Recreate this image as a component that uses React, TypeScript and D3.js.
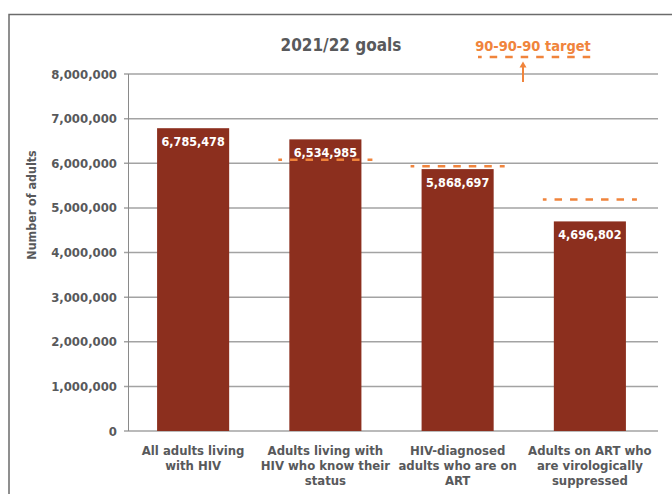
import React from "react";
import * as d3 from "d3";

const categories: string[][] = [
  ["All adults living", "with HIV"],
  ["Adults living with", "HIV who know their", "status"],
  ["HIV-diagnosed", "adults who are on", "ART"],
  ["Adults on ART who", "are virologically", "suppressed"],
];
const values: number[] = [6785478, 6534985, 5868697, 4696802];
const targets: (number | null)[] = [null, 6080000, 5930000, 5190000];
const yTicks: number[] = [0, 1000000, 2000000, 3000000, 4000000, 5000000, 6000000, 7000000, 8000000];

const W = 672;
const H = 494;
const FONT = "'Liberation Sans Narrow', 'DejaVu Sans Condensed', 'Open Sans', sans-serif";
const GRAY = "#58595b";
const BAR = "#8c2f1e";
const ORANGE = "#f0843c";

export default function App() {
  const x = d3
    .scaleBand<number>()
    .domain(values.map((_, i) => i))
    .range([127, 656])
    .paddingInner(0.455)
    .paddingOuter(0.2275);
  const y = d3.scaleLinear().domain([0, 8000000]).range([431, 74]);
  const fmt = d3.format(",");
  const bw = x.bandwidth();

  return (
    <svg
      width={W}
      height={H}
      style={{ position: "absolute", left: 0, top: 0, background: "#fff" }}
      fontFamily={FONT}
    >
      <rect x={9} y={14.5} width={700} height={520} fill="#fff" stroke="#6b6b6b" strokeWidth={1.5} />

      {/* gridlines & ticks */}
      {yTicks.map((t) => (
        <g key={t}>
          <line x1={124} x2={658} y1={y(t)} y2={y(t)} stroke="#a3a3a3" strokeWidth={1.5} />
          <text
            x={117}
            y={y(t)}
            dy="0.35em"
            textAnchor="end"
            fontSize={13}
            fontWeight="bold"
            fill={GRAY}
          >
            {fmt(t)}
          </text>
        </g>
      ))}
      <line x1={128.5} x2={128.5} y1={y(8000000)} y2={y(0)} stroke="#8a8a8a" strokeWidth={1} />

      {/* y axis title */}
      <text
        transform={`translate(36,205) rotate(-90)`}
        textAnchor="middle"
        fontSize={12.4}
        fontWeight="bold"
        fill={GRAY}
      >
        Number of adults
      </text>

      {/* bars */}
      {values.map((v, i) => (
        <g key={i}>
          <rect x={x(i)} y={y(v)} width={bw} height={y(0) - y(v)} fill={BAR} />
          <text
            x={(x(i) as number) + bw / 2}
            y={y(v) + 18}
            textAnchor="middle"
            fontSize={12.5}
            fontWeight="bold"
            fill="#fff"
          >
            {fmt(v)}
          </text>
        </g>
      ))}

      {/* targets */}
      {targets.map((t, i) =>
        t === null ? null : (
          <line
            key={i}
            x1={(x(i) as number) - 11}
            x2={(x(i) as number) + bw + 11}
            y1={y(t)}
            y2={y(t)}
            stroke={ORANGE}
            strokeWidth={2.5}
            strokeDasharray="7.5,8"
            strokeDashoffset={3.8}
          />
        )
      )}

      {/* category labels */}
      {categories.map((lines, i) => (
        <text
          key={i}
          x={(x(i) as number) + bw / 2}
          textAnchor="middle"
          fontSize={13}
          fontWeight="bold"
          fill={GRAY}
        >
          {lines.map((l, j) => (
            <tspan key={j} x={(x(i) as number) + bw / 2} y={455 + j * 14.8}>
              {l}
            </tspan>
          ))}
        </text>
      ))}

      {/* title */}
      <text x={341} y={51} textAnchor="middle" fontSize={17} fontWeight="bold" fill={GRAY}>
        2021/22 goals
      </text>

      {/* legend */}
      <text x={533} y={51} textAnchor="middle" fontSize={14.5} fontWeight="bold" fill={ORANGE}>
        90-90-90 target
      </text>
      <line
        x1={478}
        x2={591}
        y1={57}
        y2={57}
        stroke={ORANGE}
        strokeWidth={2.5}
        strokeDasharray="7.5,8"
        strokeDashoffset={3.8}
      />
      <line x1={523} x2={523} y1={82} y2={66} stroke={ORANGE} strokeWidth={2} />
      <path d="M519.5,67.5 L523,61.5 L526.5,67.5 Z" fill={ORANGE} />
    </svg>
  );
}
